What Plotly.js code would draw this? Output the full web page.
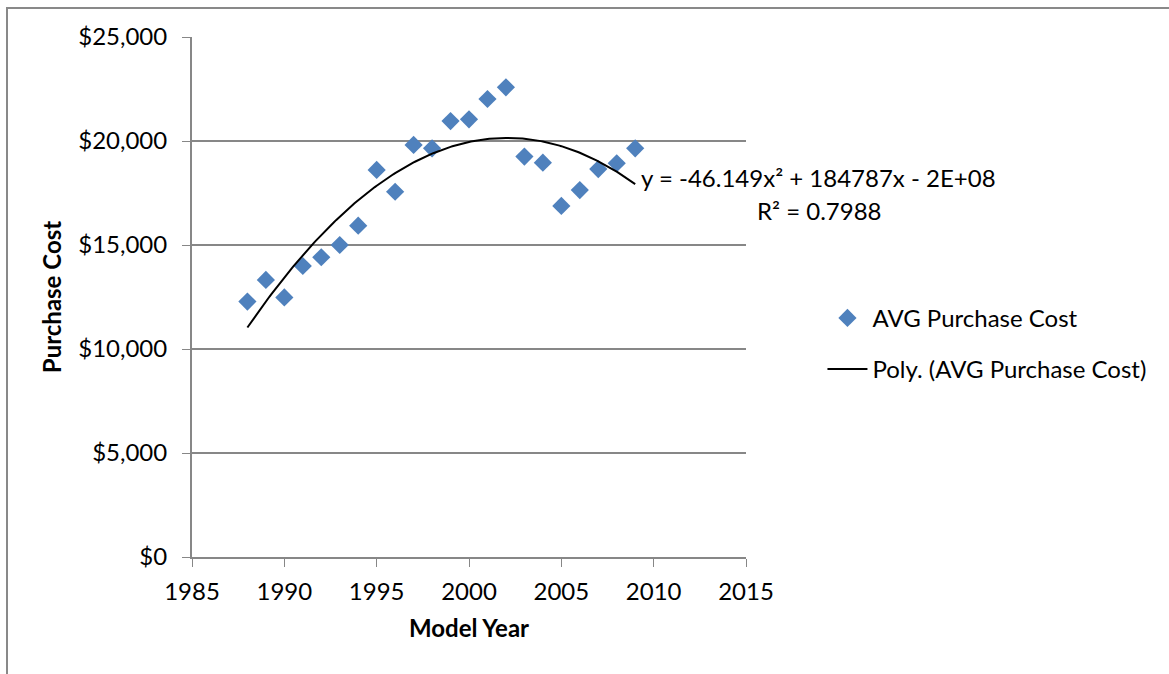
<!DOCTYPE html>
<html>
<head>
<meta charset="utf-8">
<script src="https://cdn.plot.ly/plotly-3.0.1.min.js"></script>
<style>
  html, body { margin: 0; padding: 0; background: #fff; }
  #chart { width: 1169px; height: 674px; }
</style>
</head>
<body>
<div id="chart"></div>
<script>
// Average purchase cost per model year
const modelYears = [1988, 1989, 1990, 1991, 1992, 1993, 1994, 1995, 1996, 1997, 1998,
                    1999, 2000, 2001, 2002, 2003, 2004, 2005, 2006, 2007, 2008, 2009];
const avgCost = [12280, 13320, 12480, 13990, 14410, 15000, 15930, 18610, 17560, 19810, 19650,
                 20960, 21040, 22020, 22580, 19250, 18960, 16880, 17640, 18650, 18930, 19650];

const yTickVals = [0, 5000, 10000, 15000, 20000, 25000];
const yTickText = ['$0', '$5,000', '$10,000', '$15,000', '$20,000', '$25,000'];
const xTickVals = [1985, 1990, 1995, 2000, 2005, 2010, 2015];

const seriesName = 'AVG Purchase Cost';
const trendName = 'Poly. (AVG Purchase Cost)';
const equationText = 'y = -46.149x² + 184787x - 2E+08';
const rSquaredText = 'R² = 0.7988';

// Second-order least-squares trendline (x centred for numerical stability)
function quadFit(xs, ys) {
  const n = xs.length;
  const mx = xs.reduce((a, b) => a + b, 0) / n;
  let s = [0, 0, 0, 0, 0], t = [0, 0, 0];
  for (let i = 0; i < n; i++) {
    const u = xs[i] - mx;
    let p = 1;
    for (let k = 0; k <= 4; k++) { s[k] += p; if (k <= 2) t[k] += p * ys[i]; p *= u; }
  }
  const M = [[s[0], s[1], s[2], t[0]], [s[1], s[2], s[3], t[1]], [s[2], s[3], s[4], t[2]]];
  for (let c = 0; c < 3; c++) {
    for (let r = c + 1; r < 3; r++) {
      const f = M[r][c] / M[c][c];
      for (let k = c; k < 4; k++) M[r][k] -= f * M[c][k];
    }
  }
  const b = [0, 0, 0];
  for (let r = 2; r >= 0; r--) {
    let v = M[r][3];
    for (let k = r + 1; k < 3; k++) v -= M[r][k] * b[k];
    b[r] = v / M[r][r];
  }
  return x => { const u = x - mx; return b[0] + b[1] * u + b[2] * u * u; };
}

const fit = quadFit(modelYears, avgCost);
const trendX = [], trendY = [];
const x0 = modelYears[0], x1 = modelYears[modelYears.length - 1];
for (let i = 0; i <= 210; i++) {
  const x = x0 + (x1 - x0) * i / 210;
  trendX.push(x); trendY.push(fit(x));
}

const FONT = 'Lato, "Open Sans", sans-serif';
const FS = 24;
const GRAY = '#878787';

const traces = [
  {
    x: modelYears, y: avgCost, type: 'scatter', mode: 'markers', name: seriesName,
    legendgroup: 'a',
    marker: { symbol: 'diamond', size: 14, color: '#4F81BD' },
    cliponaxis: false
  },
  {
    x: trendX, y: trendY, type: 'scatter', mode: 'lines', name: trendName,
    legendgroup: 'b',
    line: { color: '#000000', width: 2 }
  }
];

const layout = {
  width: 1169, height: 674,
  margin: { l: 192, r: 423, t: 37, b: 117, pad: 0 },
  paper_bgcolor: '#ffffff', plot_bgcolor: '#ffffff',
  font: { family: FONT, size: FS, color: '#000000' },
  showlegend: true,
  legend: {
    x: 1.138, xanchor: 'left', y: 0.41, yanchor: 'middle',
    font: { family: FONT, size: FS, color: '#000000' },
    tracegroupgap: 17, itemwidth: 40, bgcolor: 'rgba(0,0,0,0)'
  },
  xaxis: {
    range: [1985, 2015], tickvals: xTickVals, ticktext: xTickVals.map(String),
    showgrid: false, zeroline: false,
    showline: true, linecolor: GRAY, linewidth: 2,
    ticks: 'outside', ticklen: 8, tickwidth: 1, tickcolor: GRAY,
    ticklabelstandoff: 4,
    tickfont: { family: FONT, size: FS },
    title: { text: '<b>Model Year</b>', font: { family: FONT, size: FS }, standoff: 16 }
  },
  yaxis: {
    range: [0, 25000], tickvals: yTickVals, ticktext: yTickText,
    showgrid: true, gridcolor: GRAY, gridwidth: 2, zeroline: false,
    showline: true, linecolor: GRAY, linewidth: 2,
    ticks: 'outside', ticklen: 8, tickwidth: 1, tickcolor: GRAY,
    ticklabelstandoff: 10,
    tickfont: { family: FONT, size: FS },
    title: { text: '<b>Purchase Cost</b>', font: { family: FONT, size: FS }, standoff: 10 }
  },
  annotations: [
    { xref: 'paper', yref: 'paper', x: 1.130, y: 0.729, text: equationText,
      showarrow: false, xanchor: 'center', yanchor: 'middle', font: { family: FONT, size: FS } },
    { xref: 'paper', yref: 'paper', x: 1.132, y: 0.667, text: rSquaredText,
      showarrow: false, xanchor: 'center', yanchor: 'middle', font: { family: FONT, size: FS } }
  ],
  shapes: [
    { type: 'rect', xref: 'paper', yref: 'paper',
      x0: (7 - 192) / 554, x1: (1200 - 192) / 554,
      y0: (557 - 700) / 520, y1: (557 - 8) / 520,
      line: { color: '#898989', width: 2 }, fillcolor: 'rgba(0,0,0,0)', layer: 'below' }
  ]
};

Plotly.newPlot('chart', traces, layout, { displayModeBar: false, staticPlot: true });
</script>
</body>
</html>
